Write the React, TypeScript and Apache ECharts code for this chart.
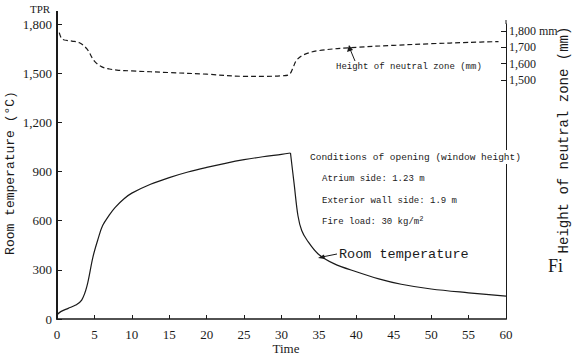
import React, { useEffect, useRef } from "react";
import * as echarts from "echarts";

// Room temperature (°C) vs time (min)
const tempTimes = [0, 0.5, 1.5, 2.5, 3.3, 4, 4.8, 5.5, 6.1, 7, 7.75, 9, 10, 12.5, 15, 17.5, 20, 22.5, 25, 27.5, 30, 31.2, 31.7, 32.2, 32.7, 33.4, 34.9, 37, 40, 43, 46, 50, 55, 60];
const tempValues = [25, 45, 65, 85, 115, 200, 378, 490, 570, 635, 680, 735, 768, 822, 863, 897, 925, 950, 972, 990, 1005, 1013, 820, 630, 540, 482, 397, 338, 288, 245, 212, 183, 160, 140];

// Height of neutral zone (mm) vs time (min)
const zoneTimes = [0.3, 0.6, 1, 2, 3, 4, 5, 6, 7, 8, 10, 15, 20, 25, 28, 30, 31, 31.5, 32, 33, 35, 40, 45, 50, 55, 59];
const zoneValues = [1790, 1755, 1745, 1738, 1728, 1690, 1615, 1580, 1567, 1560, 1555, 1545, 1535, 1522, 1522, 1525, 1532, 1570, 1620, 1655, 1680, 1700, 1712, 1722, 1730, 1735];

const leftTicks = { min: 0, max: 1800, interval: 300 };
const timeTicks = { min: 0, max: 60, interval: 5 };
const rightTickValues = [1500, 1600, 1700, 1800];
const rightRange = { min: 33, max: 1843 };

const SERIF = "Liberation Serif";
const MONO = "Liberation Mono";
const INK = "#1a1a1a";

const fmt = (v: number) => v.toLocaleString("en-US");

export default function App() {
  const ref = useRef<HTMLDivElement>(null);
  useEffect(() => {
    if (!ref.current) return;
    const chart = echarts.init(ref.current, null, { renderer: "svg" });
    const tempData = tempTimes.map((t, i) => [t, tempValues[i]]);
    const peak = tempValues.indexOf(Math.max(...tempValues));
    const tempRise = tempData.slice(0, peak + 1);
    const tempFall = tempData.slice(peak);
    const zoneData = zoneTimes.map((t, i) => [t, zoneValues[i]]);
    const tempLine = {
      type: "line",
      yAxisIndex: 0,
      smooth: 0.35,
      showSymbol: false,
      lineStyle: { color: INK, width: 1.2 },
    };
    chart.setOption({
      animation: false,
      backgroundColor: "#ffffff",
      grid: { left: 57, right: 73, top: 24, bottom: 40, show: false },
      xAxis: {
        type: "value",
        min: timeTicks.min,
        max: timeTicks.max,
        interval: timeTicks.interval,
        axisLine: { lineStyle: { color: INK, width: 1.5 } },
        axisTick: { inside: true, length: 4, lineStyle: { color: INK } },
        axisLabel: { fontFamily: SERIF, fontSize: 13, color: INK, margin: 9 },
        splitLine: { show: false },
      },
      yAxis: [
        {
          type: "value",
          min: leftTicks.min,
          max: leftTicks.max,
          interval: leftTicks.interval,
          axisLine: { show: true, lineStyle: { color: INK, width: 2 } },
          axisTick: { show: true, inside: true, length: 5, lineStyle: { color: INK } },
          axisLabel: { fontFamily: SERIF, fontSize: 13, color: INK, margin: 5, formatter: (v: number) => fmt(v) },
          splitLine: { show: false },
        },
        {
          type: "value",
          position: "right",
          min: rightRange.min,
          max: rightRange.max,
          axisLine: { show: true, lineStyle: { color: INK, width: 1 } },
          axisTick: { show: true, inside: true, length: 5, customValues: rightTickValues, lineStyle: { color: INK } },
          axisLabel: {
            fontFamily: SERIF,
            fontSize: 12,
            color: INK,
            margin: 3,
            customValues: rightTickValues,
            formatter: (v: number) => (v === 1800 ? fmt(v) + " mm" : fmt(v)),
          },
          splitLine: { show: false },
        },
      ],
      series: [
        { ...tempLine, data: tempRise },
        { ...tempLine, data: tempFall },
        {
          type: "line",
          data: zoneData,
          yAxisIndex: 1,
          smooth: 0.35,
          showSymbol: false,
          lineStyle: { color: INK, width: 1.2, type: [5, 3] },
        },
      ],
      graphic: [
        { type: "line", shape: { x1: 57, y1: 11, x2: 57, y2: 24 }, style: { stroke: INK, lineWidth: 2 } },
        { type: "line", shape: { x1: 506, y1: 20, x2: 506, y2: 24 }, style: { stroke: INK, lineWidth: 1 } },
        { type: "text", x: 30, y: 9, style: { text: "TPR", font: `11px '${SERIF}'`, fill: INK, verticalAlign: "middle" } },
        { type: "text", x: 286, y: 348, style: { text: "Time", font: `13px '${SERIF}'`, fill: INK, align: "center", verticalAlign: "middle" } },
        {
          type: "text",
          x: 10,
          y: 173,
          rotation: Math.PI / 2,
          style: { text: "Room temperature (°C)", font: `13px '${MONO}'`, fill: INK, align: "center", verticalAlign: "middle" },
        },
        {
          type: "text",
          x: 564,
          y: 140,
          rotation: Math.PI / 2,
          style: { text: "Height of neutral zone (mm)", font: `14px '${MONO}'`, fill: INK, align: "center", verticalAlign: "middle" },
        },
        { type: "text", x: 548, y: 266, style: { text: "Fi", font: `18px '${SERIF}'`, fill: INK, verticalAlign: "middle" } },
        { type: "text", x: 336, y: 67, style: { text: "Height of neutral zone (mm)", font: `9px '${MONO}'`, fill: INK, verticalAlign: "middle" } },
        { type: "line", shape: { x1: 355, y1: 61, x2: 350, y2: 49 }, style: { stroke: INK, lineWidth: 1 } },
        { type: "polygon", shape: { points: [[349, 45], [347, 52], [353, 50]] }, style: { fill: INK } },
        {
          type: "text",
          x: 310,
          y: 157,
          z: 10,
          style: {
            text: "Conditions of opening (window height)",
            font: `9.5px '${MONO}'`,
            fill: INK,
            verticalAlign: "middle",
            backgroundColor: "#ffffff",
            padding: [2, 0, 2, 0],
          },
        },
        { type: "text", x: 322, y: 179, style: { text: "Atrium side: 1.23 m", font: `9px '${MONO}'`, fill: INK, verticalAlign: "middle" } },
        { type: "text", x: 322, y: 201, style: { text: "Exterior wall side: 1.9 m", font: `9px '${MONO}'`, fill: INK, verticalAlign: "middle" } },
        {
          type: "text",
          x: 322,
          y: 222,
          style: {
            text: "Fire load: 30 kg/m{sup|2}",
            font: `9px '${MONO}'`,
            fill: INK,
            verticalAlign: "middle",
            rich: { sup: { fontFamily: MONO, fontSize: 7, verticalAlign: "top", padding: [0, 0, 6, 0] } },
          },
        },
        { type: "text", x: 339, y: 254, style: { text: "Room temperature", font: `13.5px '${MONO}'`, fill: INK, verticalAlign: "middle" } },
        { type: "line", shape: { x1: 337, y1: 254, x2: 322, y2: 257 }, style: { stroke: INK, lineWidth: 1 } },
        { type: "polygon", shape: { points: [[318, 258], [324, 254.5], [325, 259]] }, style: { fill: INK } },
      ],
    });
    return () => chart.dispose();
  }, []);
  return <div ref={ref} style={{ position: "fixed", left: 0, top: 0, width: 579, height: 359, background: "#fff" }} />;
}
